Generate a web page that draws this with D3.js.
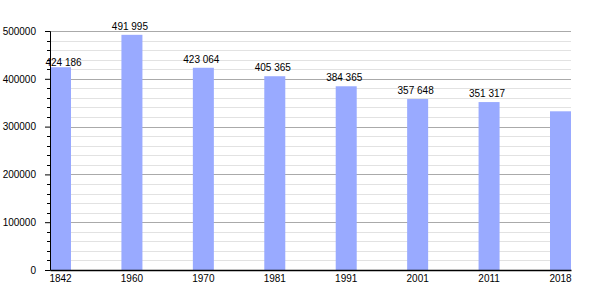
<!DOCTYPE html>
<html>
<head>
<meta charset="utf-8">
<script src="https://cdn.jsdelivr.net/npm/d3@7"></script>
<style>
  body { margin: 0; background: #fff; }
  svg text { font-family: "Liberation Sans", Arial, sans-serif; font-size: 10px; fill: #000; }
</style>
</head>
<body>
<svg id="chart" width="600" height="300"></svg>
<script>
// data
var years = ['1842', '1960', '1970', '1981', '1991', '2001', '2011', '2018'];
var population = [424186, 491995, 423064, 405365, 384365, 357648, 351317, 332000];
var showLabel = [true, true, true, true, true, true, true, false];
var yTicks = [0, 100000, 200000, 300000, 400000, 500000];

var plotLeft = 50, plotRight = 571, plotTop = 31, plotBottom = 270;

var svg = d3.select('#chart');

var x = d3.scaleBand()
  .domain(years)
  .range([plotLeft, plotRight])
  .paddingInner(0.706)
  .paddingOuter(0)
  .align(0);

var y = d3.scaleLinear()
  .domain([0, 500000])
  .range([plotBottom, plotTop]);

var py = function(d) { return Math.round(y(d)) + 0.5; };

// minor grid every 20000
var minor = d3.range(20000, 500000, 20000).filter(function(v) { return v % 100000 !== 0; });
svg.append('g').selectAll('line')
  .data(minor).enter().append('line')
    .attr('x1', plotLeft).attr('x2', plotRight)
    .attr('y1', py).attr('y2', py)
    .attr('stroke', '#e2e2e2');

// major grid
svg.append('g').selectAll('line')
  .data(yTicks.slice(1)).enter().append('line')
    .attr('x1', plotLeft).attr('x2', plotRight)
    .attr('y1', py).attr('y2', py)
    .attr('stroke', '#aaaaaa');

// bars
svg.append('g').selectAll('rect')
  .data(population).enter().append('rect')
    .attr('x', function(d, i) { return x(years[i]); })
    .attr('y', function(d) { return y(d); })
    .attr('width', x.bandwidth())
    .attr('height', function(d) { return plotBottom - y(d); })
    .attr('fill', '#99aaff');

// value labels (thin space groups, first one nudged like the original)
var fmt = function(v) { return d3.format(',')(v).replace(/,/g, ' '); };
svg.append('g').selectAll('text')
  .data(population).enter().filter(function(d, i) { return showLabel[i]; })
  .append('text')
    .attr('x', function(d, i) { return x(years[i]) + x.bandwidth() / 2 + (i === 0 ? 3 : -2); })
    .attr('y', function(d, i) { return y(d) - (i === 0 ? 1 : 5); })
    .attr('text-anchor', 'middle')
    .text(fmt);

// y axis
var yAxis = d3.axisLeft(y).tickValues(yTicks).tickSize(5).tickPadding(9).tickFormat(d3.format('d'));
var gy = svg.append('g').attr('transform', 'translate(' + plotLeft + ',0)').call(yAxis);
gy.select('.domain').attr('stroke', '#000');
gy.selectAll('.tick text').attr('font-size', 10).attr('font-family', '"Liberation Sans", Arial, sans-serif').attr('fill', '#000');

// minor ticks on y axis
svg.append('g').selectAll('line')
  .data(minor).enter().append('line')
    .attr('x1', plotLeft - 3).attr('x2', plotLeft)
    .attr('y1', py).attr('y2', py)
    .attr('stroke', '#000');

// x axis
var xAxis = d3.axisBottom(x).tickSize(0).tickPadding(5);
var gx = svg.append('g').attr('transform', 'translate(0,' + plotBottom + ')').call(xAxis);
gx.select('.domain').attr('stroke', '#000').attr('stroke-width', 1.5);
gx.selectAll('.tick text').attr('font-size', 10).attr('font-family', '"Liberation Sans", Arial, sans-serif').attr('fill', '#000');
</script>
</body>
</html>
